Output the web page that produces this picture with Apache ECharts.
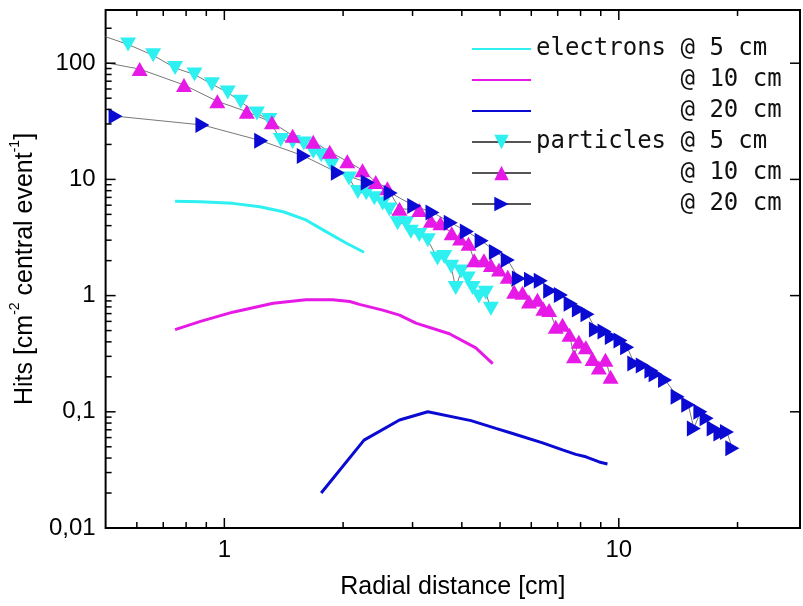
<!DOCTYPE html>
<html><head><meta charset="utf-8">
<script src="https://cdn.jsdelivr.net/npm/echarts@6/dist/echarts.min.js"></script>
<style>html,body{margin:0;padding:0;background:#fff}#c{width:803px;height:606px}</style>
</head><body><div id="c"></div>
<script>
// ---- data (x = radial distance [cm], y = hits) ----
const electrons5 = [[0.75,6.5],[0.87,6.43],[1.05,6.22],[1.23,5.82],[1.41,5.27],[1.61,4.48],[1.81,3.55],[2.04,2.82],[2.26,2.36]];
const electrons10 = [[0.75,0.51],[0.87,0.6],[1.05,0.72],[1.33,0.86],[1.61,0.92],[1.88,0.92],[2.08,0.89],[2.2,0.84],[2.52,0.75],[2.78,0.68],[3.06,0.58],[3.72,0.47],[4.34,0.355],[4.79,0.26]];
const electrons20 = [[1.76,0.020],[2.26,0.057],[2.78,0.085],[3.28,0.100],[4.22,0.084],[4.88,0.072],[5.38,0.065],[6.41,0.054],[7.2,0.047],[7.78,0.043],[8.25,0.041],[8.92,0.037],[9.36,0.0356]];
const particles5 = [[0.45,191],[0.57,145],[0.66,117],[0.75,91],[0.84,80],[0.93,66],[1.02,56],[1.10,46.5],[1.21,37],[1.30,32.5],[1.39,21.8],[1.49,21],[1.59,20.4],[1.68,17.3],[1.76,16.1],[1.87,13.3],[2.07,10.2],[2.18,7.8],[2.29,7.6],[2.40,6.9],[2.52,6.2],[2.62,5.5],[2.75,4.19],[2.89,4.19],[2.97,3.55],[3.12,3.33],[3.28,3.0],[3.47,2.09],[3.61,2.15],[3.76,1.77],[3.86,1.16],[3.98,1.61],[4.14,1.40],[4.26,1.16],[4.42,0.98],[4.60,1.06],[4.74,0.77]];
const particles10 = [[0.45,108],[0.61,89],[0.79,65],[0.96,47],[1.14,38.3],[1.32,31],[1.49,23.8],[1.68,21.1],[1.85,17.3],[2.05,14.3],[2.24,12.0],[2.42,9.5],[2.59,8.4],[2.78,5.6],[3.12,5.45],[3.34,4.4],[3.53,4.2],[3.77,3.44],[3.96,3.1],[4.16,2.8],[4.30,2.01],[4.55,2.01],[4.74,1.83],[4.97,1.68],[5.23,1.45],[5.43,1.08],[5.70,1.06],[5.92,0.89],[6.22,0.92],[6.44,0.77],[6.66,0.75],[6.92,0.54],[7.20,0.56],[7.50,0.46],[7.70,0.30],[7.92,0.40],[8.25,0.36],[8.58,0.285],[8.90,0.24],[9.25,0.28],[9.53,0.20]];
const particles20 = [[0.53,35],[0.88,29.4],[1.24,21.5],[1.59,15.9],[1.94,11.4],[2.31,9.4],[2.64,7.65],[3.03,5.9],[3.37,5.2],[3.75,4.24],[4.12,3.57],[4.49,2.97],[4.88,2.37],[5.23,2.02],[5.58,1.40],[5.99,1.37],[6.34,1.34],[6.70,1.10],[7.13,1.01],[7.55,0.85],[7.92,0.76],[8.33,0.69],[8.75,0.51],[9.2,0.49],[9.6,0.44],[10.1,0.41],[10.5,0.36],[10.95,0.26],[11.5,0.25],[12.1,0.226],[12.4,0.21],[13.1,0.188],[14.1,0.135],[15.0,0.115],[15.5,0.072],[16.1,0.10],[16.7,0.088],[17.4,0.072],[18.1,0.065],[18.8,0.067],[19.4,0.0485]];

const seriesIds = ['e5','e10','e20','p5','p10','p20'];
const legendLabels = ['electrons @ 5 cm','          @ 10 cm','          @ 20 cm','particles @ 5 cm','          @ 10 cm','          @ 20 cm'];

const xTickValues = [1, 10];
const xTickLabels = ['1', '10'];
const xMinorTicks = [0.6,0.7,0.8,0.9,2,3,4,5,6,7,8,9,20];
const yTickValues = [0.01, 0.1, 1, 10, 100];
const yTickLabels = ['0,01', '0,1', '1', '10', '100'];
const yMinorTicks = [0.02,0.03,0.04,0.05,0.06,0.07,0.08,0.09,0.2,0.3,0.4,0.5,0.6,0.7,0.8,0.9,2,3,4,5,6,7,8,9,20,30,40,50,60,70,80,90,200];

const CYAN = '#2ef0f0', MAG = '#e619e6', BLUE = '#0a0ad2';

function lookupLabel(v, vals, labels) {
  for (let i = 0; i < vals.length; i++) {
    if (Math.abs(Math.log10(v) - Math.log10(vals[i])) < 1e-6) return labels[i];
  }
  return '';
}

const tickData = [];
xTickValues.forEach(v => tickData.push([v, 1, 0, 1]));
xMinorTicks.forEach(v => tickData.push([v, 1, 0, 0]));
yTickValues.forEach(v => tickData.push([1, v, 1, 1]));
yMinorTicks.forEach(v => tickData.push([1, v, 1, 0]));

const chart = echarts.init(document.getElementById('c'), null, {renderer: 'canvas'});
const font = 'Liberation Sans, Arial, sans-serif';

function partSeries(id, data, color, rot) {
  return {
    name: id, type: 'line', data: data,
    symbol: 'triangle', symbolSize: [16, 14], symbolRotate: rot,
    showAllSymbol: true,
    lineStyle: {color: '#555', width: 0.8},
    itemStyle: {color: color},
    clip: true, z: 3
  };
}
function elecSeries(id, data, color) {
  return {
    name: id, type: 'line', data: data, symbol: 'none', smooth: false,
    lineStyle: {color: color, width: 3}, itemStyle: {color: color}, clip: true, z: 2
  };
}

chart.setOption({
  animation: false,
  backgroundColor: '#fff',
  grid: {left: 105, right: 2, top: 10, bottom: 78, show: true, borderColor: '#000', borderWidth: 2, backgroundColor: 'transparent'},
  legend: {
    orient: 'vertical', left: 466, top: 32, itemWidth: 59, itemHeight: 18, itemGap: 7, itemTextGap: 16,
    selectedMode: false,
    textStyle: {fontFamily: 'DejaVu Sans Mono', fontSize: 24, color: '#111', lineHeight: 24},
    data: seriesIds.map(id => id.charAt(0) === 'e' ? {name: id, itemStyle: {opacity: 0}} : {name: id}),
    formatter: n => legendLabels[seriesIds.indexOf(n)]
  },
  xAxis: {
    type: 'log', min: 0.5, max: 28.8,
    axisLine: {show: false}, axisTick: {show: false}, splitLine: {show: false},
    axisLabel: {fontFamily: font, fontSize: 24, color: '#000', margin: 10,
      formatter: v => lookupLabel(v, xTickValues, xTickLabels)},
    name: 'Radial distance [cm]', nameLocation: 'middle', nameGap: 47,
    nameTextStyle: {fontFamily: font, fontSize: 25, color: '#000'}
  },
  yAxis: {
    type: 'log', min: 0.01, max: 287,
    axisLine: {show: false}, axisTick: {show: false}, splitLine: {show: false},
    axisLabel: {fontFamily: font, fontSize: 24, color: '#000', margin: 10, showMaxLabel: false,
      formatter: v => lookupLabel(v, yTickValues, yTickLabels)},
    name: '{t|Hits [cm}{s|-2}{t| central event}{s|-1}{t|]}', nameLocation: 'middle', nameGap: 58, nameRotate: 90,
    nameTextStyle: {rich: {
      t: {fontFamily: font, fontSize: 25, color: '#000', lineHeight: 30, verticalAlign: 'bottom'},
      s: {fontFamily: font, fontSize: 14, color: '#000', lineHeight: 30, verticalAlign: 'top'}
    }}
  },
  series: [
    elecSeries('e5', electrons5, CYAN),
    elecSeries('e10', electrons10, MAG),
    elecSeries('e20', electrons20, BLUE),
    partSeries('p5', particles5, CYAN, 180),
    partSeries('p10', particles10, MAG, 0),
    partSeries('p20', particles20, BLUE, -90),
    {
      type: 'custom', data: tickData, clip: false, silent: true, z: 10,
      renderItem: function (params, api) {
        const cs = params.coordSys;
        const isY = api.value(2), major = api.value(3);
        const len = major ? 10 : 6;
        const st = {stroke: '#000', lineWidth: 1.5};
        const ch = [];
        if (!isY) {
          const px = api.coord([api.value(0), 1])[0];
          ch.push({type: 'line', shape: {x1: px, y1: cs.y + cs.height, x2: px, y2: cs.y + cs.height - len}, style: st});
          ch.push({type: 'line', shape: {x1: px, y1: cs.y, x2: px, y2: cs.y + len}, style: st});
        } else {
          const py = api.coord([1, api.value(1)])[1];
          ch.push({type: 'line', shape: {x1: cs.x, y1: py, x2: cs.x + len, y2: py}, style: st});
          if (major) ch.push({type: 'line', shape: {x1: cs.x + cs.width, y1: py, x2: cs.x + cs.width - len, y2: py}, style: st});
        }
        return {type: 'group', children: ch};
      }
    }
  ]
});
</script></body></html>
